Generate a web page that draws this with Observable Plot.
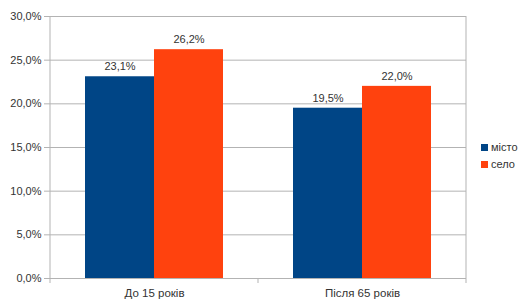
<!DOCTYPE html>
<html><head><meta charset="utf-8">
<script src="https://cdn.jsdelivr.net/npm/d3@7"></script>
<script src="https://cdn.jsdelivr.net/npm/@observablehq/plot@0.6"></script>
<style>
body{margin:0;background:#fff;font-family:"Liberation Sans",Arial,sans-serif;}
#wrap{position:relative;width:519px;height:299px;}
#wrap svg{display:block;}
.legend{position:absolute;left:481px;font-size:11px;color:#333;line-height:12px;white-space:nowrap;}
.legend .sw{display:inline-block;width:7px;height:7px;margin-right:3px;vertical-align:0px;}
</style></head><body><div id="wrap"></div>
<script>
const categories = ["До 15 років", "Після 65 років"];
const series = ["місто", "село"];
const mistoValues = [0.231, 0.195];
const seloValues = [0.262, 0.220];
const yTicks = [0, 0.05, 0.10, 0.15, 0.20, 0.25, 0.30];
const colors = ["#004586", "#ff420e"];

const data = categories.flatMap((c, i) => [
  {cat: c, series: series[0], value: mistoValues[i]},
  {cat: c, series: series[1], value: seloValues[i]}
]);
const fmt = v => d3.format(".1%")(v).replace(".", ",");
const gridColor = "#b3b3b3";

const plot = Plot.plot({
  width: 519, height: 299,
  marginLeft: 50, marginRight: 53, marginTop: 16, marginBottom: 21,
  style: {fontFamily: "Liberation Sans, Arial, sans-serif", fontSize: "11px", color: "#333", background: "#fff"},
  fx: {domain: categories, paddingInner: 0, paddingOuter: 0, axis: null, label: null},
  x: {domain: series, paddingInner: 0, paddingOuter: 0.5, axis: null, label: null},
  y: {domain: [0, 0.30], axis: null, label: null},
  color: {domain: series, range: colors},
  marks: [
    Plot.gridY(yTicks, {stroke: gridColor, strokeOpacity: 1}),
    Plot.axisY(yTicks, {tickFormat: fmt, tickSize: 6, tickPadding: 3, stroke: gridColor, strokeOpacity: 1, fill: "#333", fontSize: 11, label: null}),
    Plot.barY(data, {fx: "cat", x: "series", y: "value", fill: "series"}),
    Plot.text(data, {fx: "cat", x: "series", y: "value", text: d => fmt(d.value), dy: -10, fill: "#333", fontSize: 11}),
    Plot.axisFx({anchor: "bottom", tickSize: 0, tickPadding: 10, fill: "#333", fontSize: 11.5, label: null})
  ]
});

document.getElementById("wrap").appendChild(plot);

// decorations: axis line, category separator ticks, right border — positioned from the plot's scales
const fx = plot.scale("fx"), y = plot.scale("y");
const svg = d3.select(plot);
const y0 = y.apply(0), yTop = y.apply(0.30);
const bounds = categories.map(c => fx.apply(c)).concat([fx.apply(categories[categories.length - 1]) + fx.bandwidth]);
bounds.forEach((bx, i) => {
  const full = i === 0 || i === bounds.length - 1;
  svg.append("line")
    .attr("x1", bx).attr("x2", bx)
    .attr("y1", full ? yTop : y0).attr("y2", y0 + 5)
    .attr("stroke", gridColor).attr("stroke-width", 1);
});

// legend
const legend = document.createElement("div");
legend.className = "legend";
legend.style.top = "141px";
legend.innerHTML = series.map((s, i) =>
  `<div style="margin-bottom:5px"><span class="sw" style="background:${colors[i]}"></span>${s}</div>`).join("");
document.getElementById("wrap").appendChild(legend);
</script>
</body></html>
